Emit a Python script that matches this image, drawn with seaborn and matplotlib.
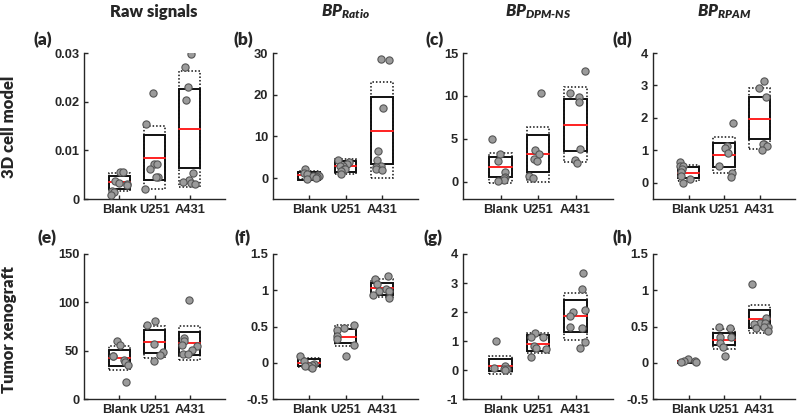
import numpy as np
import pandas as pd
import seaborn as sns
import matplotlib.pyplot as plt
from matplotlib.patches import Rectangle
from matplotlib.ticker import FuncFormatter

groups = ['Blank', 'U251', 'A431']

# (a) raw signals, 3D cell model
raw_cell = [[0.0056, 0.0056, 0.0036, 0.0033, 0.0030, 0.0028, 0.0017, 0.0015, 0.0008],
            [0.0218, 0.0154, 0.0072, 0.0071, 0.0061, 0.0046, 0.0046, 0.0021],
            [0.0298, 0.0271, 0.0231, 0.0204, 0.0053, 0.0039, 0.0034, 0.0032, 0.0030]]
raw_cell_mean = [0.0034, 0.0084, 0.0143]
raw_cell_solid = [(0.0021, 0.0048), (0.0040, 0.0132), (0.0063, 0.0226)]
raw_cell_dotted = [(0.0016, 0.0053), (0.0021, 0.0151), (0.0025, 0.0262)]

# (b) BP ratio, 3D cell model
ratio_cell = [[2.3, 1.3, 1.0, 0.8, 0.6, 0.5, 0.3, 0.0, -0.2],
              [4.4, 3.8, 3.4, 3.0, 2.8, 2.3, 2.2, 1.8, 1.0],
              [28.6, 28.4, 16.7, 6.6, 4.4, 3.0, 2.6, 2.2, 2.0]]
ratio_cell_mean = [0.7, 2.8, 11.4]
ratio_cell_solid = [(-0.5, 1.4), (1.4, 4.2), (3.4, 19.4)]
ratio_cell_dotted = [(-0.3, 1.6), (1.1, 4.6), (0.0, 23.1)]

# (c) BP DPM-NS, 3D cell model
dpm_cell = [[5.0, 3.2, 2.4, 1.1, 0.6, 0.4, 0.2, 0.1],
            [10.4, 3.7, 3.2, 2.6, 2.4, 0.7, 0.5],
            [12.9, 10.4, 9.9, 9.3, 3.8, 2.5, 2.2]]
dpm_cell_mean = [1.7, 3.2, 6.6]
dpm_cell_solid = [(0.6, 2.9), (1.1, 5.4), (3.6, 9.7)]
dpm_cell_dotted = [(-0.1, 3.4), (0.0, 6.4), (2.3, 11.0)]

# (d) BP RPAM, 3D cell model
rpam_cell = [[0.63, 0.53, 0.51, 0.42, 0.32, 0.22, 0.11, -0.02],
             [1.85, 1.13, 1.07, 0.91, 0.51, 0.29, 0.19],
             [3.14, 2.91, 2.65, 1.20, 1.20, 1.13, 1.00]]
rpam_cell_mean = [0.31, 0.87, 1.98]
rpam_cell_solid = [(0.15, 0.48), (0.48, 1.23), (1.34, 2.65)]
rpam_cell_dotted = [(0.06, 0.56), (0.30, 1.41), (1.03, 2.91)]

# (e) raw signals, tumor xenograft
raw_tumor = [[59.7, 56.2, 44.1, 44.1, 40.7, 37.9, 35.5, 17.6],
             [80.3, 76.9, 56.9, 48.3, 45.9, 39.0],
             [102.4, 63.1, 60.3, 56.2, 54.5, 51.0, 46.6, 46.6]]
raw_tumor_mean = [42, 59, 58]
raw_tumor_solid = [(33.8, 50.3), (47.6, 71.0), (45.5, 69.7)]
raw_tumor_dotted = [(29.7, 54.5), (42.4, 75.9), (40.7, 75.9)]

# (f) BP ratio, tumor xenograft
ratio_tumor = [[0.097, 0.018, -0.014, -0.028, -0.05, -0.05, -0.077],
               [0.516, 0.484, 0.456, 0.364, 0.328, 0.25, 0.10],
               [1.19, 1.16, 1.08, 1.02, 0.99, 0.99, 0.94, 0.89]]
ratio_tumor_mean = [0.0, 0.36, 1.03]
ratio_tumor_solid = [(-0.05, 0.05), (0.27, 0.47), (0.94, 1.10)]
ratio_tumor_dotted = [(-0.06, 0.06), (0.23, 0.52), (0.91, 1.15)]

# (g) BP DPM-NS, tumor xenograft
dpm_tumor = [[1.0, 0.15, 0.06, 0.04, 0.02, -0.01],
             [1.29, 1.14, 1.14, 0.82, 0.75, 0.71, 0.44],
             [3.33, 2.79, 2.06, 2.01, 1.86, 1.48, 1.46, 0.97, 0.77]]
dpm_tumor_mean = [0.15, 0.88, 1.85]
dpm_tumor_solid = [(-0.05, 0.38), (0.65, 1.19), (1.31, 2.41)]
dpm_tumor_dotted = [(-0.13, 0.50), (0.57, 1.29), (1.03, 2.67)]

# (h) BP RPAM, tumor xenograft
rpam_tumor = [[0.05, 0.03, 0.02, 0.01, 0.005],
              [0.49, 0.48, 0.36, 0.35, 0.27, 0.22, 0.10],
              [1.08, 0.62, 0.55, 0.55, 0.53, 0.50, 0.49, 0.48, 0.44]]
rpam_tumor_mean = [0.02, 0.32, 0.60]
rpam_tumor_solid = [(0.0, 0.03), (0.24, 0.41), (0.48, 0.73)]
rpam_tumor_dotted = [(-0.01, 0.04), (0.19, 0.46), (0.41, 0.79)]

col_titles = ['Raw signals', r'$BP_{Ratio}$', r'$BP_{DPM\text{-}NS}$', r'$BP_{RPAM}$']
row_titles = ['3D cell model', 'Tumor xenograft']
panel_tags = ['(a)', '(b)', '(c)', '(d)', '(e)', '(f)', '(g)', '(h)']

panels = [
    (raw_cell, raw_cell_mean, raw_cell_solid, raw_cell_dotted, (0, 0.03), [0, 0.01, 0.02, 0.03]),
    (ratio_cell, ratio_cell_mean, ratio_cell_solid, ratio_cell_dotted, (-5, 30), [0, 10, 20, 30]),
    (dpm_cell, dpm_cell_mean, dpm_cell_solid, dpm_cell_dotted, (-2, 15), [0, 5, 10, 15]),
    (rpam_cell, rpam_cell_mean, rpam_cell_solid, rpam_cell_dotted, (-0.5, 4), [0, 1, 2, 3, 4]),
    (raw_tumor, raw_tumor_mean, raw_tumor_solid, raw_tumor_dotted, (0, 150), [0, 50, 100, 150]),
    (ratio_tumor, ratio_tumor_mean, ratio_tumor_solid, ratio_tumor_dotted, (-0.5, 1.5), [-0.5, 0, 0.5, 1, 1.5]),
    (dpm_tumor, dpm_tumor_mean, dpm_tumor_solid, dpm_tumor_dotted, (-1, 4), [-1, 0, 1, 2, 3, 4]),
    (rpam_tumor, rpam_tumor_mean, rpam_tumor_solid, rpam_tumor_dotted, (-0.5, 1.5), [-0.5, 0, 0.5, 1, 1.5]),
]

sns.set_style('ticks')
plt.rcParams['font.family'] = ['Liberation Sans', 'DejaVu Sans']
plt.rcParams['mathtext.fontset'] = 'custom'
plt.rcParams['mathtext.it'] = 'Lato:italic:heavy'
plt.rcParams['mathtext.rm'] = 'Lato:italic:heavy'
np.random.seed(3)

W, H = 800, 415
fig = plt.figure(figsize=(8, 4.15), dpi=100)

x_spans = [(84, 225), (273, 418), (463, 613), (653, 795)]
y_spans = [(53, 199), (254, 399)]
tag_pos = [(43, 40), (243, 40), (435, 40), (622, 40),
           (47, 238), (243, 238), (433, 238), (622, 238)]
half = 0.3

for k, (vals, means, solid, dotted, ylim, yticks) in enumerate(panels):
    r, c = divmod(k, 4)
    x0, x1 = x_spans[c]
    y0, y1 = y_spans[r]
    ax = fig.add_axes([x0 / W, 1 - y1 / H, (x1 - x0) / W, (y1 - y0) / H])
    df = pd.DataFrame({'group': np.repeat(groups, [len(v) for v in vals]),
                       'value': np.concatenate(vals)})
    sns.stripplot(data=df, x='group', y='value', order=groups, ax=ax, jitter=0.27,
                  size=5.2, color='#9b9b9b', edgecolor='#555555', linewidth=0.8, zorder=3)
    for i in range(3):
        lo, hi = dotted[i]
        ax.add_patch(Rectangle((i - half, lo), 2 * half, hi - lo, fill=False,
                               ls=(0, (1, 1.3)), lw=1.1, ec='#111111', zorder=2))
        lo, hi = solid[i]
        ax.add_patch(Rectangle((i - half, lo), 2 * half, hi - lo, fill=False,
                               lw=1.4, ec='#111111', zorder=2))
        ax.plot([i - half, i + half], [means[i], means[i]], color='#ff2020', lw=1.4, zorder=2.5)
    ax.set_xlim(-1, 3)
    ax.set_ylim(*ylim)
    ax.set_yticks(yticks)
    ax.yaxis.set_major_formatter(FuncFormatter(lambda v, p: f'{v:g}'))
    ax.set_xlabel('')
    ax.set_ylabel('')
    ax.tick_params(direction='in', length=3, width=1, labelsize=9.3, colors='#262626')
    for lab in ax.get_xticklabels() + ax.get_yticklabels():
        lab.set_fontweight('bold')
    for s in ['left', 'bottom']:
        ax.spines[s].set_color('#262626')
        ax.spines[s].set_linewidth(1)
    sns.despine(ax=ax)
    tx, ty = tag_pos[k]
    fig.text(tx / W, 1 - ty / H, panel_tags[k], family='Lato', fontweight='heavy',
             fontsize=12.5, ha='center', va='center')

title_x = [154, 345, 538, 724]
for c, t in enumerate(col_titles):
    fig.text(title_x[c] / W, 1 - 12 / H, t, family='Lato', fontweight='heavy',
             fontsize=12, ha='center', va='center')

for r, t in enumerate(row_titles):
    fig.text(9 / W, 1 - [127, 329][r] / H, t, family='Lato', fontweight='heavy',
             fontsize=12, rotation=90, ha='center', va='center')

plt.savefig('out.png', dpi=100)
